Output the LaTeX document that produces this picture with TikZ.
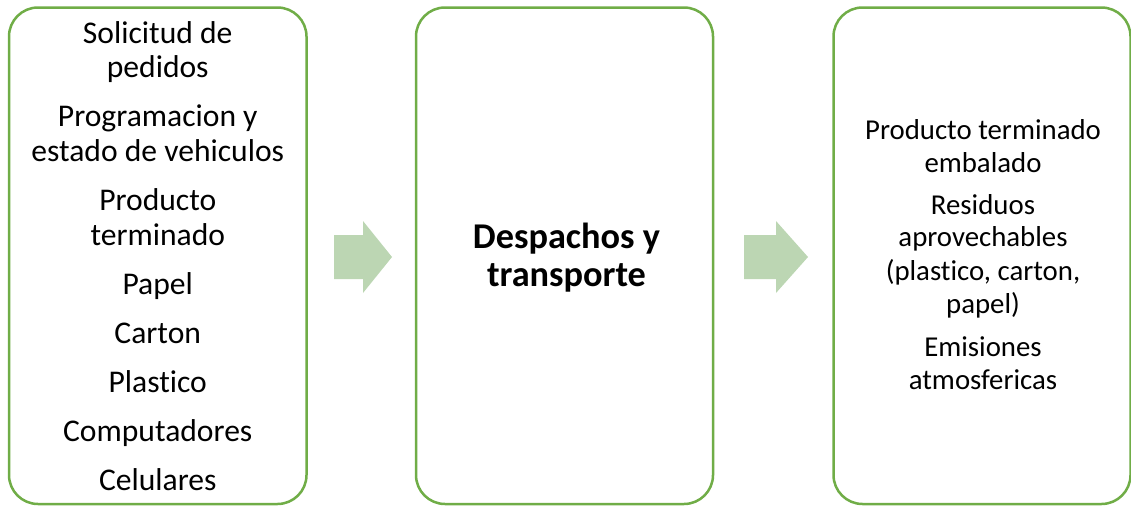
\documentclass[tikz,border=0pt]{standalone}
\usepackage{fontspec}
\setmainfont{Carlito}[Ligatures={NoCommon}]
\definecolor{boxgreen}{RGB}{112,173,71}
\definecolor{arrowgreen}{RGB}{188,214,179}
\tikzset{
  stagebox/.style={draw=boxgreen, line width=2.5pt, rounded corners=29pt, fill=white, inner sep=0pt},
  blockarrow/.style={fill=arrowgreen, draw=none},
  lefttext/.style={anchor=base, inner sep=0pt, font=\fontsize{31.6}{34.5}\selectfont},
  midtext/.style={anchor=base, inner sep=0pt, font=\fontsize{36.3}{38}\selectfont\bfseries},
  righttext/.style={anchor=base, inner sep=0pt, font=\fontsize{28.8}{32}\selectfont},
}
\begin{document}
\begin{tikzpicture}[x=1pt,y=-1pt]
\useasboundingbox (0,0) rectangle (1131,506);
% boxes
\node[stagebox, minimum width=297.5pt, minimum height=496.5pt] (box1) at (157.75,255.75) {};
\node[stagebox, minimum width=297pt, minimum height=496.5pt] (box2) at (564.5,255.75) {};
\node[stagebox, minimum width=297pt, minimum height=496.5pt] (box3) at (982,255.75) {};
% block arrows
\fill[blockarrow] (334,235) -- (363,235) -- (363,221) -- (392,257) -- (363,293) -- (363,279) -- (334,279) -- cycle;
\fill[blockarrow] (744,235) -- (776,235) -- (776,221) -- (808,257) -- (776,293) -- (776,279) -- (744,279) -- cycle;
% left texts
\node[lefttext] (l1) at (157.75,43) {Solicitud de};
\node[lefttext] (l2) at (157.75,77) {pedidos};
\node[lefttext] (l3) at (157.75,126.5) {Programacion y};
\node[lefttext] (l4) at (157.75,161.5) {estado de vehiculos};
\node[lefttext] (l5) at (157.75,210.5) {Producto};
\node[lefttext] (l6) at (157.75,245.5) {terminado};
\node[lefttext] (l7) at (157.75,294) {Papel};
\node[lefttext] (l8) at (157.75,343.5) {Carton};
\node[lefttext] (l9) at (157.75,392) {Plastico};
\node[lefttext] (l10) at (157.75,441.5) {Computadores};
\node[lefttext] (l11) at (157.75,490) {Celulares};
% middle texts
\node[midtext] (m1) at (566.5,248.3) {Despachos y};
\node[midtext] (m2) at (566.5,286) {transporte};
% right texts
\node[righttext] (r1) at (983,139.5) {Producto terminado};
\node[righttext] (r2) at (983,172) {embalado};
\node[righttext] (r3) at (983,214) {Residuos};
\node[righttext] (r4) at (983,246.5) {aprovechables};
\node[righttext] (r5) at (983,280.5) {(plastico, carton,};
\node[righttext] (r6) at (983,313) {papel)};
\node[righttext] (r7) at (983,356.5) {Emisiones};
\node[righttext] (r8) at (983,389) {atmosfericas};
\end{tikzpicture}
\end{document}
